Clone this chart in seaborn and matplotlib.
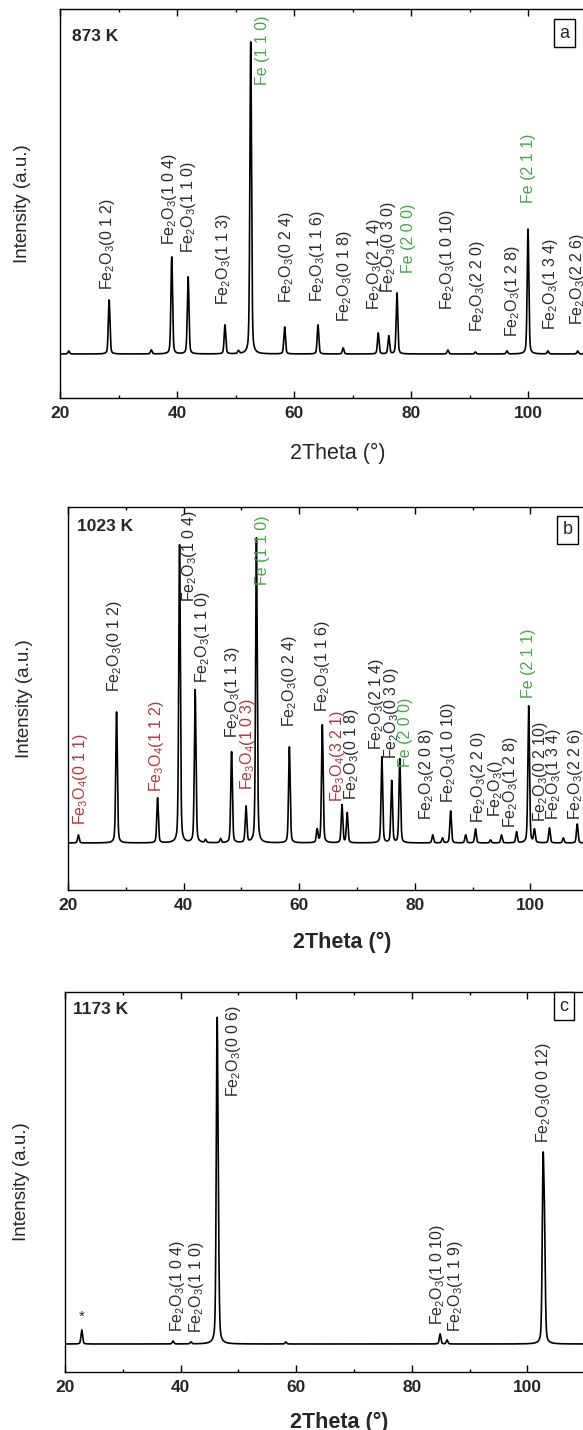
import numpy as np
import pandas as pd
import matplotlib
matplotlib.use("Agg")
import matplotlib.pyplot as plt
import seaborn as sns
from matplotlib.ticker import MultipleLocator

sns.set_theme(style="ticks")
plt.rcParams["font.family"] = ["Liberation Sans", "DejaVu Sans"]
plt.rcParams["mathtext.default"] = "regular"

# ---------------------------------------------------------------- data
# Reflection positions (2theta, deg) and heights above background (a.u.)
peaks_873 = [21.5, 28.4, 35.6, 39.1, 41.9, 48.2, 50.5, 52.6, 58.4, 64.1,
             68.4, 74.4, 76.2, 77.6, 86.3, 91.0, 96.4, 100.0, 103.4, 108.5]
heights_873 = [3, 54, 4, 97, 77, 29, 3, 312, 27, 29,
               6, 21, 18, 61, 4, 2, 3, 125, 3, 3]

peaks_1023 = [21.8, 28.4, 35.5, 39.3, 42.0, 43.8, 46.4, 48.3, 50.8, 52.6,
              58.3, 63.1, 64.0, 67.4, 68.3, 74.3, 76.0, 77.4, 83.1, 84.8,
              86.2, 88.8, 90.5, 93.1, 95.0, 97.6, 99.7, 100.7, 103.3, 105.7,
              108.1]
heights_1023 = [8, 131, 45, 298, 153, 3, 4, 91, 36, 305,
                96, 13, 118, 38, 30, 86, 62, 84, 8, 5,
                32, 8, 14, 3, 8, 11, 137, 13, 15, 5,
                19]

# strong reflections at 1173 K show a resolved K-alpha2 shoulder
peaks_1173 = [22.9, 38.7, 41.8, 46.3, 46.5, 58.2, 84.9, 86.1, 102.7, 102.95]
heights_1173 = [14, 3, 2, 290, 90, 2, 10, 4, 165, 100]

# Peak labels: (text, 2theta, height of label base, phase)
FE2O3 = "Fe$_2$O$_3$"
FE3O4 = "Fe$_3$O$_4$"
labels_873 = [
    (FE2O3 + "(0 1 2)", 28.2, 64, "hematite"),
    (FE2O3 + "(1 0 4)", 38.8, 109, "hematite"),
    (FE2O3 + "(1 1 0)", 41.9, 101, "hematite"),
    (FE2O3 + "(1 1 3)", 47.9, 49, "hematite"),
    ("Fe (1 1 0)", 54.7, 269, "iron"),
    (FE2O3 + "(0 2 4)", 58.8, 51, "hematite"),
    (FE2O3 + "(1 1 6)", 64.1, 52, "hematite"),
    (FE2O3 + "(0 1 8)", 68.7, 32, "hematite"),
    (FE2O3 + "(2 1 4)", 73.8, 44, "hematite"),
    (FE2O3 + "(0 3 0)", 76.1, 61, "hematite"),
    ("Fe (2 0 0)", 79.5, 81, "iron"),
    (FE2O3 + "(1 0 10)", 86.3, 44, "hematite"),
    (FE2O3 + "(2 2 0)", 91.3, 22, "hematite"),
    (FE2O3 + "(1 2 8)", 97.3, 17, "hematite"),
    ("Fe (2 1 1)", 100.0, 151, "iron"),
    (FE2O3 + "(1 3 4)", 103.8, 24, "hematite"),
    (FE2O3 + "(2 2 6)", 108.4, 29, "hematite"),
]
labels_1023 = [
    (FE3O4 + "(0 1 1)", 22.1, 18, "magnetite"),
    (FE2O3 + "(0 1 2)", 28.1, 151, "hematite"),
    (FE3O4 + "(1 1 2)", 35.3, 51, "magnetite"),
    (FE2O3 + "(1 0 4)", 41.0, 241, "hematite"),
    (FE2O3 + "(1 1 0)", 43.3, 160, "hematite"),
    (FE2O3 + "(1 1 3)", 48.4, 105, "hematite"),
    (FE3O4 + "(1 0 3)", 51.0, 53, "magnetite"),
    ("Fe (1 1 0)", 53.6, 258, "iron"),
    (FE2O3 + "(0 2 4)", 58.3, 116, "hematite"),
    (FE2O3 + "(1 1 6)", 64.0, 131, "hematite"),
    (FE3O4 + "(3 2 1)", 66.6, 41, "magnetite"),
    (FE2O3 + "(0 1 8)", 69.0, 43, "hematite"),
    (FE2O3 + "(2 1 4)", 73.4, 93, "hematite"),
    (FE2O3 + "(0 3 0)", 75.9, 84, "hematite"),
    ("Fe (2 0 0)", 78.4, 76, "iron"),
    (FE2O3 + "(2 0 8)", 82.1, 23, "hematite"),
    (FE2O3 + "(1 0 10)", 85.9, 40, "hematite"),
    (FE2O3 + "(2 2 0)", 91.0, 20, "hematite"),
    (FE2O3 + "()", 94.0, 26, "hematite"),
    (FE2O3 + "(1 2 8)", 96.6, 15, "hematite"),
    ("Fe (2 1 1)", 99.7, 145, "iron"),
    (FE2O3 + "(0 2 10)", 101.7, 21, "hematite"),
    (FE2O3 + "(1 3 4)", 104.0, 23, "hematite"),
    (FE2O3 + "(2 2 6)", 107.8, 23, "hematite"),
]
labels_1173 = [
    ("*", 22.9, 20, "hematite"),
    (FE2O3 + "(1 0 4)", 39.4, 12, "hematite"),
    (FE2O3 + "(1 1 0)", 42.8, 11, "hematite"),
    (FE2O3 + "(0 0 6)", 49.1, 247, "hematite"),
    (FE2O3 + "(1 0 10)", 84.5, 19, "hematite"),
    (FE2O3 + "(1 1 9)", 87.5, 12, "hematite"),
    (FE2O3 + "(0 0 12)", 102.7, 201, "hematite"),
]

temperatures = ["873 K", "1023 K", "1173 K"]
panel_tags = ["a", "b", "c"]

# ---------------------------------------------------------------- style
phase_colors = {"hematite": "#2a2a2a", "iron": "#45a845", "magnetite": "#b3363c"}
two_theta = np.linspace(20, 115, 4751)


def pattern(positions, heights, fwhm=0.33, eta=0.35):
    """Pseudo-Voigt sum of the listed reflections on a flat background."""
    y = np.zeros_like(two_theta)
    for x0, h in zip(positions, heights):
        d = (two_theta - x0) / fwhm
        y += h * (eta / (1 + 4 * d ** 2) + (1 - eta) * np.exp(-4 * np.log(2) * d ** 2))
    return y


W, H = 583, 1430
fig = plt.figure(figsize=(W / 100, H / 100), dpi=100)

# axes boxes in pixels: left, top, bottom, pixels per degree
boxes = [(60, 9, 398, 5.85), (68, 507, 890, 5.78), (65, 992, 1372, 5.78)]
ylims = [(-44, 345), (-47, 336), (-28, 352)]
datasets = [(peaks_873, heights_873, labels_873),
            (peaks_1023, heights_1023, labels_1023),
            (peaks_1173, heights_1173, labels_1173)]
xlabel_bold = [False, True, True]
xlabel_y = [-0.116, -0.110, -0.106]
ylabel_x = [-0.052, -0.064, -0.064]
tag_pos = [(0.908, 0.938), (0.910, 0.941), (0.909, 0.963)]
temp_pos = [(0.022, 0.93), (0.016, 0.948), (0.015, 0.953)]

for i, ((left, top, bottom, ppd), (pos, hts, labels)) in enumerate(zip(boxes, datasets)):
    width = 95 * ppd
    ax = fig.add_axes([left / W, 1 - bottom / H, width / W, (bottom - top) / H])
    df = pd.DataFrame({"two_theta": two_theta, "intensity": pattern(pos, hts)})
    sns.lineplot(data=df, x="two_theta", y="intensity", ax=ax,
                 color="black", linewidth=1.2, estimator=None, sort=False)
    ax.set_xlim(20, 115)
    ax.set_ylim(*ylims[i])
    ax.set_yticks([])
    ax.xaxis.set_major_locator(MultipleLocator(20))
    ax.xaxis.set_minor_locator(MultipleLocator(10))
    ax.tick_params(axis="x", which="both", direction="in", top=True, bottom=True,
                   width=1.0, color="black", pad=6, labelsize=12.5)
    ax.tick_params(axis="x", which="major", length=5)
    ax.tick_params(axis="x", which="minor", length=2.5)
    for lbl in ax.get_xticklabels():
        lbl.set_fontweight("bold")
    for sp in ax.spines.values():
        sp.set_color("black")
        sp.set_linewidth(1.0)

    ax.set_xlabel("2Theta (°)", fontsize=15.5,
                  fontweight="bold" if xlabel_bold[i] else "normal", va="top")
    ax.xaxis.set_label_coords(0.5, xlabel_y[i])
    ax.set_ylabel("Intensity (a.u.)", fontsize=13.5)
    ax.yaxis.set_label_coords(ylabel_x[i], 0.5)

    for text, x, y, phase in labels:
        if text == "*":
            ax.text(x, y, text, fontsize=11, ha="center", va="bottom",
                    color=phase_colors[phase])
            continue
        ax.text(x, y, text, rotation=90, fontsize=11.5, ha="center", va="bottom",
                color=phase_colors[phase], clip_on=False)

    ax.text(*temp_pos[i], temperatures[i], transform=ax.transAxes, fontsize=12.5,
            fontweight="bold", ha="left", va="center")
    ax.text(*tag_pos[i], panel_tags[i], transform=ax.transAxes, fontsize=13,
            ha="center", va="center",
            bbox=dict(boxstyle="square,pad=0.3", facecolor="white",
                      edgecolor="black", linewidth=1.0))

fig.savefig("out.png", dpi=100)
